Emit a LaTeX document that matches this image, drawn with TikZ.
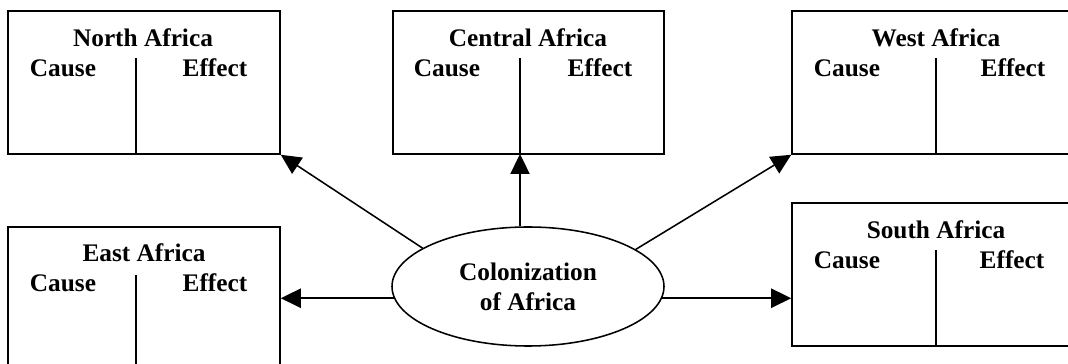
\documentclass[tikz,border=0pt]{standalone}
\usepackage{fontspec}
\setmainfont{Liberation Serif}
\usetikzlibrary{shapes.geometric,arrows.meta}

\begin{document}
\begin{tikzpicture}[line width=1.1pt,
    regionbox/.style={draw, rectangle, inner sep=0pt, minimum width=6.8cm, minimum height=3.575cm},
    label/.style={font=\fontsize{18}{21.3}\selectfont\bfseries, inner sep=0pt},
    arrow/.style={-{Triangle[length=0.5cm,width=0.48cm]}}]
      \useasboundingbox (0,0) rectangle (26.7,9.1);

      % top row
      \node[regionbox] (north) at (3.6, 7.0375){};
        \node[label] (north-t) at (3.575, 8.15){North Africa};
        \node[label] (north-c) at (1.575, 7.4){Cause};
        \node[label] (north-e) at (5.375, 7.4){Effect};
        \draw (3.4, 7.65) to (3.4, 5.25);

      \node[regionbox, minimum width=6.775cm] (central) at (13.2125, 7.0375){};
        \node[label] (central-t) at (13.2, 8.15){Central Africa};
        \node[label] (central-c) at (11.175, 7.4){Cause};
        \node[label] (central-e) at (15.0, 7.4){Effect};
        \draw (13.0, 7.65) to (13.0, 5.25);
        \coordinate (central-d) at (13.0, 5.25);

      \node[regionbox, minimum width=7.2cm] (west) at (23.4, 7.0375){};
        \node[label] (west-t) at (23.4, 8.15){West Africa};
        \node[label] (west-c) at (21.175, 7.4){Cause};
        \node[label] (west-e) at (25.325, 7.4){Effect};
        \draw (23.4, 7.65) to (23.4, 5.25);

      % bottom row
      \node[regionbox, minimum height=3.625cm] (east) at (3.6, 1.6125){};
        \node[label] (east-t) at (3.6, 2.775){East Africa};
        \node[label] (east-c) at (1.575, 2.025){Cause};
        \node[label] (east-e) at (5.375, 2.025){Effect};
        \draw (3.4, 2.225) to (3.4, -0.2);

      \node[regionbox, minimum width=7.2cm] (south) at (23.4, 2.2375){};
        \node[label] (south-t) at (23.4, 3.35){South Africa};
        \node[label] (south-c) at (21.175, 2.6){Cause};
        \node[label] (south-e) at (25.3, 2.6){Effect};
        \draw (23.4, 2.85) to (23.4, 0.45);

      % centre
      \node[draw, ellipse, inner sep=0pt, minimum width=6.8cm, minimum height=2.975cm,
            label, align=center] (colon) at (13.2, 1.9375){Colonization\\of Africa};

      \draw[arrow] (colon.160) -- (north.south east);
      \draw[arrow] (colon.north -| central-d) -- (central-d);
      \draw[arrow] (colon.19) -- (west.south west);
      \draw[arrow] (colon.185) -- (colon.185 -| east.east);
      \draw[arrow] (colon.-5) -- (colon.-5 -| south.west);

    \end{tikzpicture}
\end{document}
